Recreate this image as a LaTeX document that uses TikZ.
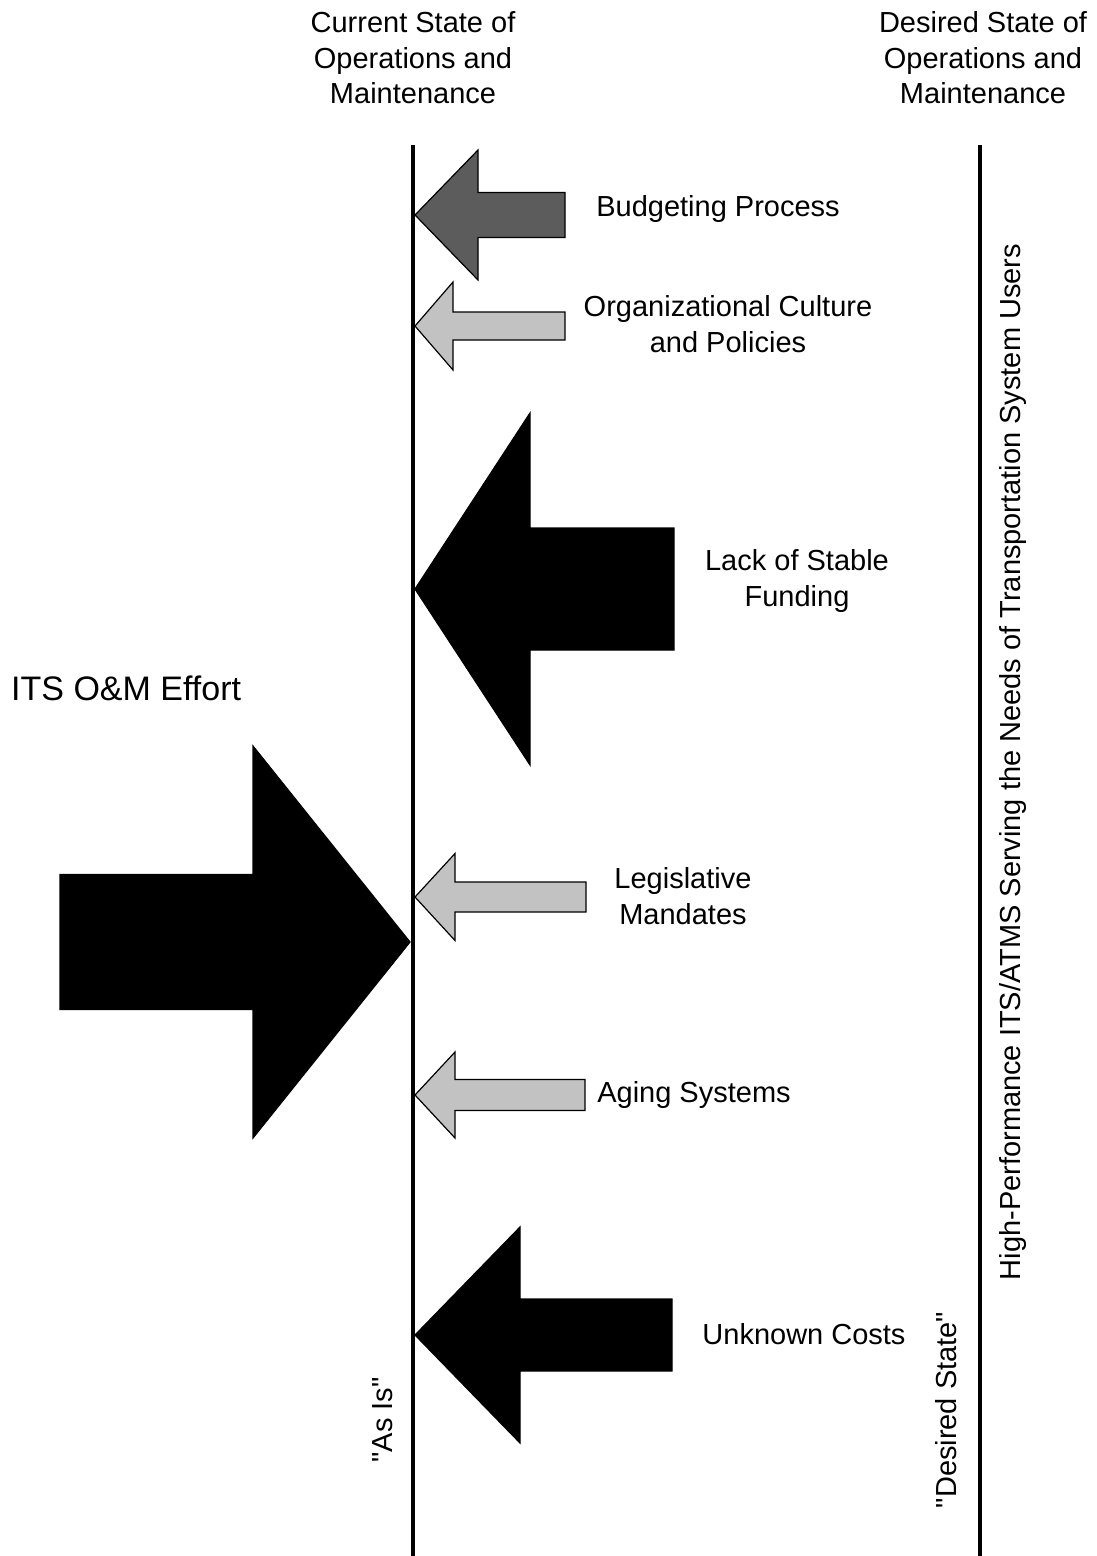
\documentclass[tikz,border=0pt]{standalone}
\usepackage{fontspec}
\setmainfont{Liberation Sans}

\definecolor{darkfill}{gray}{0.36}
\definecolor{lightfill}{gray}{0.76}

\tikzset{
  lbl/.style={font=\fontsize{29}{35.5}\selectfont, align=center, inner sep=0pt},
  bigline/.style={line width=4pt},
}

% #1 fill, #2 tip x, #3 tip y, #4 head x, #5 half head, #6 half shaft, #7 tail x
\newcommand{\fatarrow}[7]{%
  \draw[fill=#1, line width=1.2pt, line join=miter] (#2,#3) -- (#4,{#3-#5}) -- (#4,{#3-#6})
    -- (#7,{#3-#6}) -- (#7,{#3+#6}) -- (#4,{#3+#6}) -- (#4,{#3+#5}) -- cycle;}

\begin{document}
\begin{tikzpicture}[x=1pt, y=-1pt]
        \useasboundingbox (0,0) rectangle (1096,1556);

        % Headings
        \node[lbl] (current) at (413,58) {Current State of\\Operations and\\Maintenance};
        \node[lbl] (desired) at (983,58) {Desired State of\\Operations and\\Maintenance};

        % As-is and desired lines
        \draw[bigline] (413,145) -- (413,1556);
        \draw[bigline] (980,145) -- (980,1556);

        % Barriers
        \fatarrow{darkfill}{415}{215}{478}{65}{22.5}{565}
        \fatarrow{lightfill}{415}{326}{453}{44}{14}{565}
        \fatarrow{black}{415}{589}{530}{176}{61}{674}
        \fatarrow{lightfill}{415}{897}{455}{43.5}{15}{586}
        \fatarrow{lightfill}{415}{1095}{455}{43}{15.5}{585}
        \fatarrow{black}{415}{1335}{520}{108}{36}{672}

        % Effort
        \fatarrow{black}{410}{942}{253}{196}{67.5}{60}

        % Labels
        \node[lbl] (budget) at (718,209) {Budgeting Process};
        \node[lbl] (culture) at (728,324) {Organizational Culture\\and Policies};
        \node[lbl] (funding) at (797,581) {Lack of Stable\\Funding};
        \node[lbl] (mandates) at (683,896) {Legislative\\Mandates};
        \node[lbl] (aging) at (694,1095) {Aging Systems};
        \node[lbl] (costs) at (804,1334) {Unknown Costs};
        \node[lbl, font=\fontsize{34}{40}\selectfont, anchor=west] (effort) at (11,688) {ITS O\&M Effort};

        % Rotated labels
        \node[lbl, rotate=90] (asis) at (383,1420) {\textquotedbl As Is\textquotedbl};
        \node[lbl, rotate=90] (desiredstate) at (946,1410) {\textquotedbl Desired State\textquotedbl};
        \node[lbl, rotate=90] (goal) at (1013,762) {High-Performance ITS/ATMS Serving the Needs of Transportation System Users};

      \end{tikzpicture}
\end{document}
